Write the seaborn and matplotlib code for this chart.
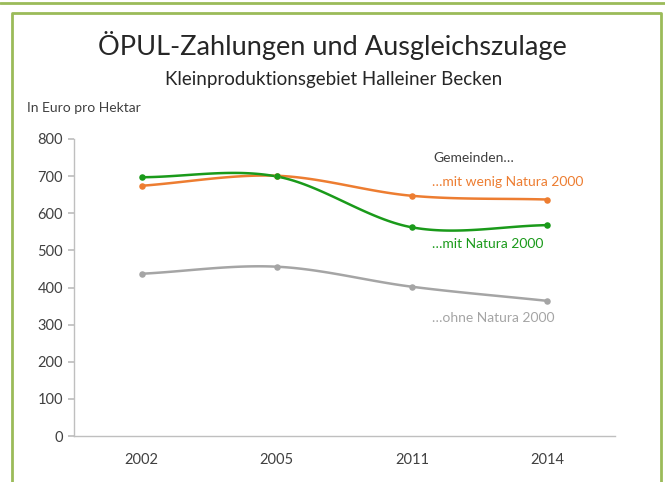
import numpy as np
import pandas as pd
import matplotlib
matplotlib.use("Agg")
import matplotlib.pyplot as plt
from matplotlib.lines import Line2D
import seaborn as sns

years = ["2002", "2005", "2011", "2014"]
wenig = [674, 701, 647, 637]
mit = [697, 699, 562, 568]
ohne = [437, 456, 402, 364]
series_names = ["…mit wenig Natura 2000", "…mit Natura 2000", "…ohne Natura 2000"]
colors = ["#ED7D31", "#1A9A1A", "#A5A5A5"]

sns.set_theme(style="white")
plt.rcParams['font.family'] = ['Lato', 'DejaVu Sans']

fig = plt.figure(figsize=(6.65, 4.82), dpi=100)
ax = fig.add_axes([74/665, 1-436/482, (615-74)/665, (436-139)/482])

def smooth(xs, ys, n=40):
    # Catmull-Rom style smoothing (like spreadsheet smoothed lines)
    xs = np.asarray(xs, float); ys = np.asarray(ys, float)
    px = np.concatenate([[2*xs[0]-xs[1]], xs, [2*xs[-1]-xs[-2]]])
    py = np.concatenate([[2*ys[0]-ys[1]], ys, [2*ys[-1]-ys[-2]]])
    outx, outy = [], []
    for i in range(1, len(px)-2):
        p0, p1, p2, p3 = (np.array([px[j], py[j]]) for j in range(i-1, i+3))
        c1 = p1 + (p2 - p0) / 6
        c2 = p2 - (p3 - p1) / 6
        t = np.linspace(0, 1, n)[:, None]
        b = (1-t)**3*p1 + 3*(1-t)**2*t*c1 + 3*(1-t)*t**2*c2 + t**3*p2
        outx.extend(b[:, 0]); outy.extend(b[:, 1])
    return np.array(outx), np.array(outy)

xpos = np.arange(len(years))
for vals, c in zip([ohne, wenig, mit], [colors[2], colors[0], colors[1]]):
    sx, sy = smooth(xpos, vals)
    sns.lineplot(x=sx, y=sy, ax=ax, color=c, lw=1.8, sort=False, estimator=None)
    sns.scatterplot(x=xpos, y=vals, ax=ax, color=c, s=22, edgecolor=c, linewidth=0, zorder=5)

ax.set_xlim(-0.5, 3.5)
ax.set_ylim(0, 800)
ax.set_yticks(range(0, 801, 100))
ax.set_xticks(xpos)
ax.set_xticklabels(years)
ax.set_xticks(np.arange(-0.5, 3.6, 1), minor=True)
ax.tick_params(axis='x', which='major', length=0, pad=12, labelsize=10.5, labelcolor="#404040")
ax.tick_params(axis='x', which='minor', length=4, direction='in', color="#BFBFBF", width=1)
ax.tick_params(axis='y', length=4, direction='out', color="#BFBFBF", labelsize=10.5,
               labelcolor="#404040", pad=4, left=True)
for s in ["top", "right"]:
    ax.spines[s].set_visible(False)
for s in ["left", "bottom"]:
    ax.spines[s].set_color("#BFBFBF")
    ax.spines[s].set_linewidth(1)
ax.set_xlabel(""); ax.set_ylabel("")

# annotations
ax.text(2.16, 750, "Gemeinden…", color="#404040", fontsize=10, va='center', ha='left')
ax.text(2.15, 684, series_names[0], color=colors[0], fontsize=10, va='center', ha='left')
ax.text(2.15, 517, series_names[1], color=colors[1], fontsize=10, va='center', ha='left')
ax.text(2.15, 317, series_names[2], color=colors[2], fontsize=10, va='center', ha='left')

fig.text(332/665, 1-45/482, "ÖPUL-Zahlungen und Ausgleichszulage", ha='center', va='center',
         fontsize=19.5, color="#262626")
fig.text(334/665, 1-80/482, "Kleinproduktionsgebiet Halleiner Becken", ha='center', va='center',
         fontsize=13.5, color="#262626")
fig.text(27/665, 1-108/482, "In Euro pro Hektar", ha='left', va='center', fontsize=10,
         color="#404040")

# frame
bc = "#9BBB59"
fig.add_artist(Line2D([0, 1], [1-3/482, 1-3/482], transform=fig.transFigure, color=bc, lw=2))
fig.add_artist(Line2D([11.5/665, 11.5/665, 661/665, 661/665], [0, 1-13/482, 1-13/482, 0],
                      transform=fig.transFigure, color=bc, lw=2))

fig.savefig("out.png", dpi=100)
